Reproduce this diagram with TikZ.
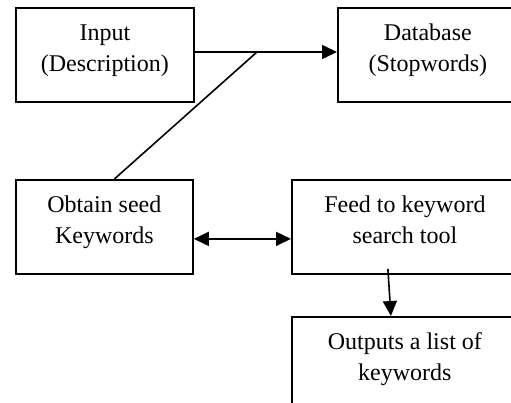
\documentclass[tikz,border=0pt]{standalone}
\usepackage{fontspec}
\setmainfont{Liberation Serif}
\usetikzlibrary{arrows.meta}
\tikzset{box/.style={draw, line width=1.8pt, minimum width=226pt, text height=64pt,
    text depth=30pt, inner ysep=0pt, align=center, font=\fontsize{24}{31}\selectfont}}
\tikzset{link/.style={line width=1.6pt}}

\begin{document}
\begin{tikzpicture}[x=1pt, y=-1pt, >={Triangle[length=15pt,width=14pt]}]
    \clip (0,0) rectangle (511,403);

    \node (inp) at (15,7) [box, anchor=north west, minimum width=178pt] {Input\\(Description)};
    \node (db) at (337,7) [box, anchor=north west, minimum width=180pt] {Database\\(Stopwords)};
    \node (seed) at (15,179) [box, anchor=north west, minimum width=177pt] {Obtain seed\\Keywords};
    \node (feed) at (291,179) [box, anchor=north west] {Feed to keyword\\search tool};
    \node (outl) at (291,316) [box, anchor=north west] {Outputs a list of\\keywords};

    \coordinate (jn) at (257,52);

    \draw (inp.east |- jn) edge [link, ->] (db.west |- jn);
    \draw (jn) edge [link] ([xshift=10pt]seed.north);
    \draw ([yshift=-12pt]seed.east) edge [link, <->] ([yshift=-12pt]feed.west);
    \draw ([xshift=-17pt,yshift=6pt]feed.south) edge [link, ->] ([xshift=-14pt]outl.north);
\end{tikzpicture}
\end{document}
